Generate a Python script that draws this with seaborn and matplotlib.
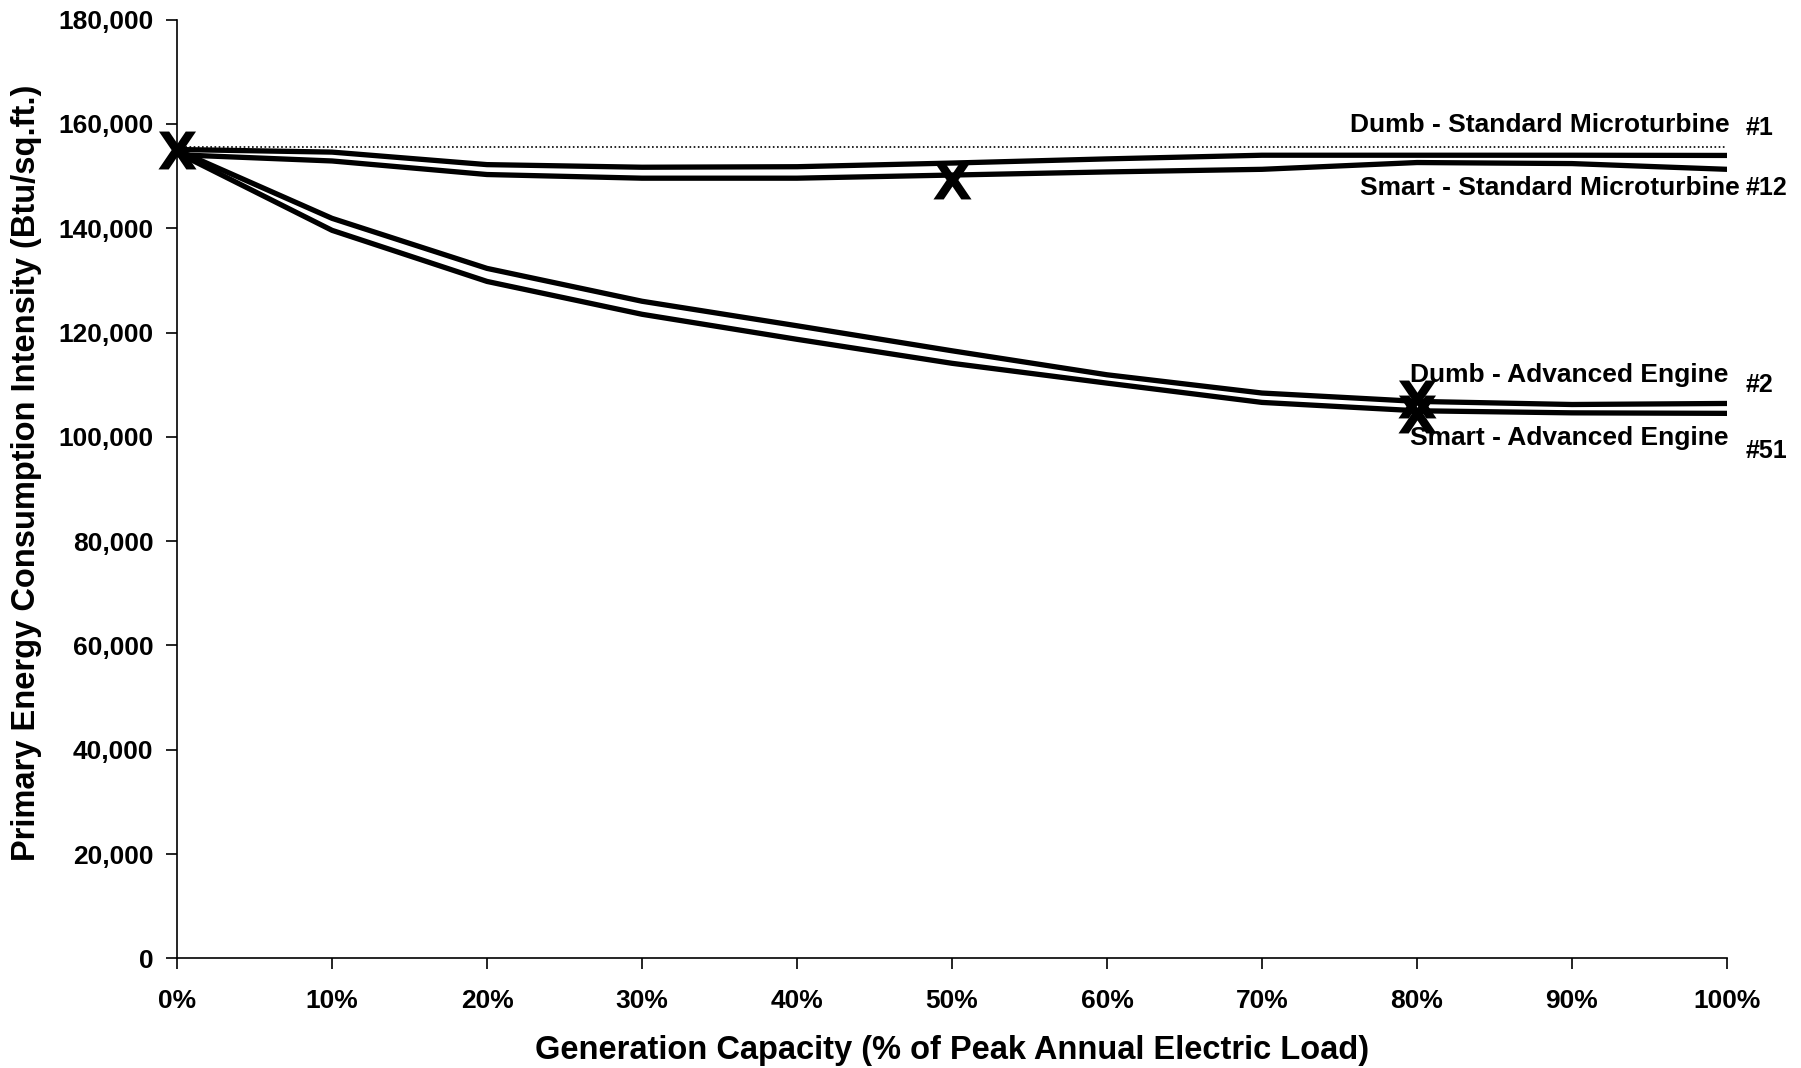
import numpy as np
import pandas as pd
import seaborn as sns
import matplotlib.pyplot as plt

# generation capacity (% of peak annual electric load)
capacity = [0, 10, 20, 30, 40, 50, 60, 70, 80, 90, 100]

dumb_micro = [155100, 154600, 152200, 151700, 151800, 152500, 153300, 154000, 154000, 154000, 153960]
smart_micro = [154100, 152900, 150300, 149600, 149600, 150200, 150800, 151300, 152600, 152400, 151300]
dumb_engine = [155000, 141900, 132300, 126000, 121300, 116500, 111900, 108400, 106800, 106200, 106400]
smart_engine = [154500, 139600, 129800, 123500, 118700, 114100, 110300, 106600, 105000, 104600, 104500]
baseline = [155500] * len(capacity)

# optimum points (X marks)
opt_x = [0, 50, 80, 80]
opt_y = [155000, 149300, 107300, 104300]

series_names = ["Dumb - Standard Microturbine", "Smart - Standard Microturbine",
                "Dumb - Advanced Engine", "Smart - Advanced Engine"]
case_ids = ["#1", "#12", "#2", "#51"]
label_x = [100.2, 100.8, 100.1, 100.1]
label_y = [158500, 146400, 110560, 98430]
case_y = [157900, 146400, 108650, 95930]

df = pd.DataFrame({
    "capacity": capacity * 4,
    "eui": dumb_micro + smart_micro + dumb_engine + smart_engine,
    "series": np.repeat(series_names, len(capacity)),
})

sns.set_style("ticks")
plt.rcParams["font.family"] = ["Liberation Sans", "DejaVu Sans"]
plt.rcParams["font.weight"] = "bold"
for key in ["text.color", "axes.labelcolor", "xtick.color", "ytick.color"]:
    plt.rcParams[key] = "black"

fig = plt.figure(figsize=(18.01, 10.68), dpi=100)
ax = fig.add_axes([0.0983, 0.1027, 0.8606, 0.8789])

sns.lineplot(x=capacity, y=baseline, ax=ax, color="black", linewidth=1.2,
             linestyle=(0, (1, 1.5)))
sns.lineplot(data=df, x="capacity", y="eui", hue="series",
             palette=["black"] * 4, linewidth=3.8, legend=False, ax=ax)
sns.scatterplot(x=opt_x, y=opt_y, ax=ax, marker=r"$\mathbf{X}$", s=750,
                color="black", linewidth=0, zorder=5, clip_on=False)

for name, cid, lx, ly, cy in zip(series_names, case_ids, label_x, label_y, case_y):
    ax.text(lx, ly, name, ha="right", va="baseline", fontsize=19, fontweight="bold")
    ax.text(101.2, cy, cid, ha="left", va="baseline", fontsize=18, fontweight="bold")

ax.set_xlim(0, 100)
ax.set_ylim(0, 180000)
ax.set_xticks(capacity)
ax.set_xticklabels([f"{c}%" for c in capacity])
ax.set_yticks(np.arange(0, 180001, 20000))
ax.set_yticklabels([f"{v:,}" for v in range(0, 180001, 20000)])
ax.tick_params(axis="both", labelsize=19, length=8, width=1.2, color="black")
ax.tick_params(axis="x", pad=14)
ax.tick_params(axis="y", pad=9)
for lab in ax.get_xticklabels() + ax.get_yticklabels():
    lab.set_fontweight("bold")

ax.set_xlabel("Generation Capacity (% of Peak Annual Electric Load)", fontsize=23.5,
              fontweight="bold", labelpad=16)
ax.set_ylabel("Primary Energy Consumption Intensity (Btu/sq.ft.)", fontsize=23.5,
              fontweight="bold")
ax.yaxis.set_label_coords(-0.087, 0.517)
sns.despine(ax=ax)
for s in ["left", "bottom"]:
    ax.spines[s].set_linewidth(1.2)
    ax.spines[s].set_color("black")

fig.savefig("out.png", dpi=100)
